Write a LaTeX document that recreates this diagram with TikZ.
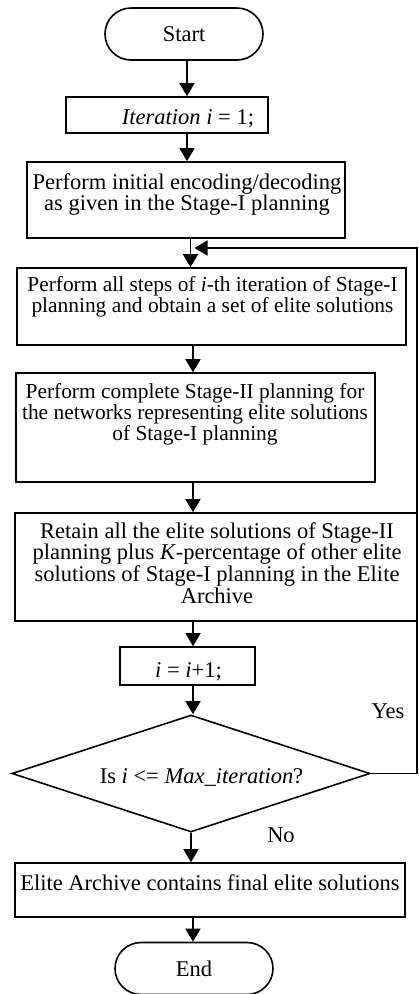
\documentclass[tikz,border=0pt]{standalone}
\usepackage{fontspec}
\setmainfont{Liberation Serif}
\usetikzlibrary{shapes.misc,shapes.geometric,arrows.meta}
\begin{document}
\begin{tikzpicture}[x=1pt,y=-1pt,
  line width=1.6pt,
  every node/.style={font=\fontsize{22.5}{21.7}\selectfont},
  small/.style={font=\fontsize{21.4}{21.3}\selectfont},
  box/.style={draw, rectangle, inner sep=0pt},
  term/.style={draw, rounded rectangle, inner sep=0pt,
    minimum width=158pt, minimum height=52pt},
  decision/.style={draw, diamond, inner sep=0pt,
    minimum width=358pt, minimum height=117pt},
  txt/.style={inner sep=0pt, align=center},
  arr/.style={-{Triangle[width=15pt,length=13pt]}},
]
\useasboundingbox (0,0) rectangle (418,994);

% terminals, process boxes and the decision
\node[term] (start) at (184,34) {Start};

\node[box, minimum width=202pt, minimum height=36pt] (iter) at (167,115) {};
\node[txt, anchor=base] (itertxt) at (188,124) {\textit{Iteration i} = 1;};

\node[box, minimum width=318pt, minimum height=76pt] (init) at (186,200) {};
\node[txt, anchor=north] (inittxt) at (187,172.5)
  {Perform initial encoding/decoding\\as given in the Stage-I planning};

\node[box, minimum width=389pt, minimum height=77pt] (steps) at (211.5,306.5) {};
\node[txt, small, anchor=north] (stepstxt) at (212.5,275.5)
  {Perform all steps of \textit{i}-th iteration of Stage-I\\planning and obtain a set of elite solutions};

\node[box, minimum width=359pt, minimum height=109pt] (stage2) at (195.5,427.5) {};
\node[txt, small, anchor=north] (stage2txt) at (195,382.5)
  {Perform complete Stage-II planning for\\the networks representing elite solutions\\of Stage-I planning};

\node[box, minimum width=402pt, minimum height=108pt] (retain) at (216,567) {};
\node[txt, anchor=north] (retaintxt) at (217,521.5)
  {Retain all the elite solutions of Stage-II\\planning plus \textit{K}-percentage of other elite\\solutions of Stage-I planning in the Elite\\Archive};

\node[box, minimum width=135pt, minimum height=38pt] (inc) at (187.5,666) {};
\node[txt, anchor=base] (inctxt) at (188.5,677) {\textit{i} = \textit{i}+1;};

\node[decision] (dec) at (191,773.5) {};
\node[txt, anchor=base] (dectxt) at (201.5,783)
  {Is \textit{i} <= \textit{Max\_iteration}?};
\node[txt, anchor=base] (yes) at (388,718) {Yes};
\node[txt, anchor=base] (no) at (281,842) {No};

\node[box, minimum width=390pt, minimum height=54pt] (final) at (210,890) {};
\node[txt, anchor=base] (finaltxt) at (210,890)
  {Elite Archive contains final elite solutions};

\node[term] (end) at (194,968.5) {End};

% columns of the downward connectors
\coordinate (ca) at (187,0);
\coordinate (cb) at (190.5,0);
\coordinate (cc) at (193,0);
\coordinate (cd) at (191,0);

\draw[arr] (start.south -| ca) -- (iter.north -| ca);
\draw[arr] (iter.south -| ca) -- (init.north -| ca);
\draw[arr] (init.south -| cb) -- (steps.north -| cb);
\draw[arr] (steps.south -| cc) -- (stage2.north -| cc);
\draw[arr] (stage2.south -| cc) -- (retain.north -| cc);
\draw[arr] (retain.south -| cc) -- (inc.north -| cc);
\draw[arr] (inc.south -| cc) -- (dec.north -| cc);
\draw[arr] (dec.south -| cd) -- (final.north -| cd);
\draw[arr] (final.south -| cc) -- (end.north -| cc);

% loop back on "Yes"
\coordinate (loopTop) at (417,248);
\coordinate (loopEnd) at (190.5,248);
\draw[arr, shorten >=4pt] (dec.east) -- (dec.east -| loopTop) -- (loopTop) -- (loopEnd);
\end{tikzpicture}
\end{document}
